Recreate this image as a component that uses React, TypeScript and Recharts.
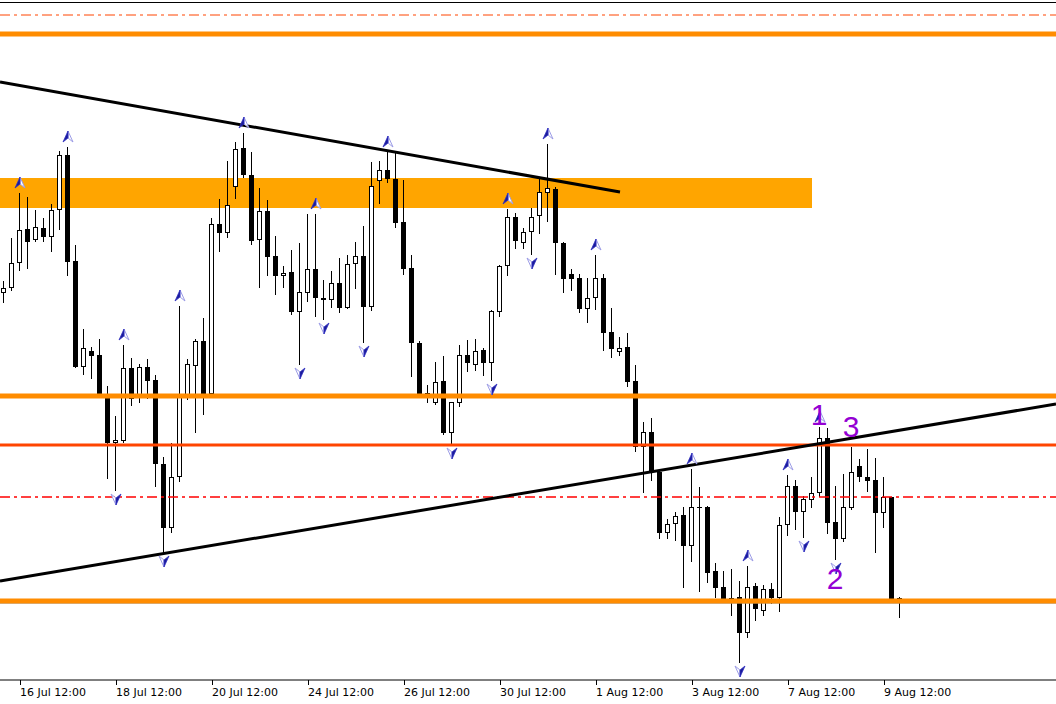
import { ComposedChart, Bar, Scatter, XAxis, YAxis, ReferenceLine, ReferenceArea } from 'recharts'

// H4 candles, price in points
const opens = [
  707, 712, 737, 771, 760, 772, 763, 790, 845, 739,
  633, 649, 645, 604, 557, 559, 632, 602, 633, 620,
  536, 472, 523, 603, 634, 659, 606, 776, 767, 813,
  852, 825, 760, 789, 744, 724, 728, 688, 707, 731,
  702, 700, 717, 692, 736, 744, 693, 819, 830, 821,
  778, 732, 657, 607, 597, 619, 567, 597, 645, 635,
  650, 637, 688, 734, 783, 757, 768, 784, 807, 811,
  757, 726, 722, 691, 702, 722, 668, 648, 653, 619,
  553, 568, 528, 467, 476, 485, 454, 493, 493, 429,
  413, 402, 403, 367, 414, 389, 411, 402, 475, 514,
  488, 500, 507, 562, 478, 461, 492, 534, 523, 520,
  487, 503, 402,
]
const highs = [
  719, 762, 807, 803, 790, 782, 796, 849, 853, 755,
  671, 653, 661, 614, 584, 655, 642, 636, 641, 625,
  543, 557, 694, 641, 661, 682, 782, 801, 839, 858,
  867, 848, 812, 800, 764, 734, 750, 757, 786, 786,
  720, 729, 742, 745, 758, 774, 838, 839, 848, 847,
  820, 745, 659, 615, 638, 644, 598, 655, 660, 661,
  652, 690, 735, 791, 787, 772, 792, 821, 856, 813,
  758, 731, 726, 722, 745, 726, 692, 663, 667, 635,
  578, 582, 529, 481, 488, 493, 531, 513, 494, 437,
  429, 431, 419, 434, 417, 415, 417, 483, 525, 520,
  504, 523, 573, 572, 514, 526, 553, 541, 551, 542,
  523, 503, 403,
]
const lows = [
  697, 709, 729, 731, 758, 758, 748, 770, 724, 632,
  625, 621, 603, 521, 509, 557, 594, 597, 601, 513,
  447, 467, 518, 600, 567, 585, 603, 748, 762, 801,
  822, 755, 712, 724, 705, 712, 685, 635, 698, 683,
  680, 692, 687, 691, 711, 657, 689, 796, 817, 772,
  725, 623, 603, 597, 595, 565, 555, 593, 628, 629,
  624, 619, 683, 724, 751, 751, 745, 766, 778, 725,
  707, 709, 687, 677, 690, 649, 642, 644, 613, 548,
  507, 519, 461, 461, 459, 412, 438, 408, 417, 402,
  399, 384, 337, 362, 379, 384, 396, 388, 464, 470,
  462, 492, 503, 466, 440, 458, 490, 518, 508, 447,
  472, 400, 382,
]
const closes = [
  712, 737, 770, 758, 773, 763, 790, 845, 738, 633,
  652, 644, 605, 557, 560, 632, 601, 633, 619, 536,
  472, 523, 603, 636, 659, 606, 776, 767, 795, 851,
  825, 759, 789, 743, 724, 727, 688, 708, 731, 702,
  700, 717, 692, 736, 744, 693, 814, 830, 821, 777,
  731, 657, 606, 605, 618, 567, 598, 645, 637, 649,
  637, 689, 734, 783, 759, 768, 783, 808, 812, 757,
  721, 721, 691, 702, 722, 667, 651, 652, 618, 553,
  568, 528, 467, 476, 484, 454, 493, 492, 427, 412,
  401, 400, 367, 413, 391, 411, 402, 475, 514, 488,
  501, 507, 562, 477, 461, 493, 528, 523, 519, 487,
  503, 401, 401,
]

// bar index of each time label
const tickIdx = [2, 14, 26, 38, 50, 62, 74, 86, 98, 110]
const tickLabels = [
  '16 Jul 12:00', '18 Jul 12:00', '20 Jul 12:00', '24 Jul 12:00', '26 Jul 12:00',
  '30 Jul 12:00', '1 Aug 12:00', '3 Aug 12:00', '7 Aug 12:00', '9 Aug 12:00',
]

// fractals
const fractalUp = [2, 8, 15, 22, 30, 39, 48, 63, 68, 74, 86, 93, 98, 102]
const fractalDown = [14, 20, 37, 40, 45, 56, 61, 66, 92, 100, 104]

// drawn objects
const resistTop = 966
const dashTop = 985
const zoneLow = 792
const zoneHigh = 822
const zoneEnd = 101
const level1 = 604
const level2 = 555
const dashLevel = 503
const level3 = 399
const bidPrice = 397
const trendDown = [{ x: -0.5, y: 918 }, { x: 77, y: 808 }]
const trendUp = [{ x: -0.5, y: 419 }, { x: 131.5, y: 596 }]
const waveLabels = [
  { i: 101.9, v: 586, t: '1' },
  { i: 103.9, v: 421.5, t: '2' },
  { i: 105.9, v: 574, t: '3' },
]

const candles = opens.map((open, i) => ({
  i,
  open,
  high: highs[i],
  low: lows[i],
  close: closes[i],
  range: [lows[i], highs[i]],
}))
const upData = fractalUp.map((i) => ({ i, v: highs[i] }))
const downData = fractalDown.map((i) => ({ i, v: lows[i] }))

const Candle = (props: any) => {
  const { x, y, width, height, payload } = props
  if (!payload || height == null) return null
  const { open, close, high, low } = payload
  const k = height / (high - low)
  const cx = Math.floor(x + width / 2) + 0.5
  const yO = y + (high - open) * k
  const yC = y + (high - close) * k
  const top = Math.round(Math.min(yO, yC))
  const bot = Math.round(Math.max(yO, yC))
  const bull = close > open
  return (
    <g>
      <line x1={cx} x2={cx} y1={Math.round(y)} y2={Math.round(y + height)} stroke="#000" strokeWidth={1} />
      {bull && bot - top > 1 ? (
        <rect x={cx - 2} y={top + 0.5} width={4} height={bot - top - 1} fill="#fff" stroke="#000" strokeWidth={1} />
      ) : (
        <rect x={cx - 2.5} y={top} width={5} height={Math.max(bot - top, 1)} fill="#000" />
      )}
    </g>
  )
}

// fractal arrows: dark half + outlined light half
const UpArrow = (props: any) => {
  const { cx, cy } = props
  const ax = Math.round(cx)
  const ay = cy - 10
  return (
    <g>
      <polygon points={`${ax},${ay - 6} ${ax + 5},${ay + 5} ${ax},${ay + 1}`} fill="#ffffff" stroke="#9c9ce6" strokeWidth={1} />
      <polygon points={`${ax},${ay - 6} ${ax - 5},${ay + 5} ${ax},${ay + 1}`} fill="#1a1a9a" stroke="#3030c0" strokeWidth={0.8} />
    </g>
  )
}

const DownArrow = (props: any) => {
  const { cx, cy } = props
  const ax = Math.round(cx)
  const ay = cy + 8
  return (
    <g>
      <polygon points={`${ax},${ay + 6} ${ax - 5},${ay - 5} ${ax},${ay - 1}`} fill="#ffffff" stroke="#9c9ce6" strokeWidth={1} />
      <polygon points={`${ax},${ay + 6} ${ax + 5},${ay - 5} ${ax},${ay - 1}`} fill="#1a1a9a" stroke="#3030c0" strokeWidth={0.8} />
    </g>
  )
}

const WaveLabel = (props: any) => {
  const { cx, cy, payload } = props
  return (
    <text x={cx} y={cy} textAnchor="middle" dominantBaseline="central" fill="#9400D3" fontSize={30} fontFamily="'Liberation Sans', Arial, sans-serif">
      {payload.t}
    </text>
  )
}

const TimeTick = (props: any) => {
  const { x, y, payload } = props
  const label = tickLabels[tickIdx.indexOf(payload.value)]
  const tx = Math.floor(x) + 0.5
  return (
    <g>
      <line x1={tx} x2={tx} y1={y} y2={y + 5} stroke="#000" strokeWidth={1} />
      <text x={x} y={y + 16} fill="#000" fontSize={11} fontFamily="'DejaVu Sans', sans-serif">
        {label}
      </text>
    </g>
  )
}

export default function App() {
  return (
    <div style={{ position: 'absolute', left: 0, top: 0, width: 1056, height: 704, background: '#fff' }}>
      <div style={{ position: 'absolute', left: 0, top: 2, width: 1056, height: 1, background: '#000' }} />
      <ComposedChart width={1056} height={704} data={candles} margin={{ top: 0, right: 0, bottom: 0, left: 0 }}>
        <XAxis
          dataKey="i"
          type="number"
          domain={[-0.5, 131.5]}
          allowDataOverflow
          ticks={tickIdx}
          interval={0}
          height={24}
          tickLine={false}
          tickSize={0}
          tickMargin={0}
          axisLine={{ stroke: '#000' }}
          tick={<TimeTick />}
        />
        <YAxis hide domain={[320, 1000]} allowDataOverflow type="number" />
        <ReferenceArea x1={-0.5} x2={zoneEnd} y1={zoneLow} y2={zoneHigh} fill="#FFA500" fillOpacity={1} stroke="none" />
        <Bar dataKey="range" barSize={8} shape={<Candle />} isAnimationActive={false} />
        <ReferenceLine y={dashTop} stroke="#FF4500" strokeWidth={1} strokeDasharray="10 4 3 4" />
        <ReferenceLine y={resistTop} stroke="#FF8C00" strokeWidth={5} />
        <ReferenceLine y={level1} stroke="#FF8C00" strokeWidth={5} />
        <ReferenceLine y={level2} stroke="#FF4500" strokeWidth={3} />
        <ReferenceLine y={dashLevel} stroke="#FF0000" strokeWidth={1.5} strokeDasharray="10 4 3 4" />
        <ReferenceLine y={bidPrice} stroke="#778899" strokeWidth={1} />
        <ReferenceLine y={level3} stroke="#FF8C00" strokeWidth={5} />
        <ReferenceLine segment={trendDown} stroke="#000" strokeWidth={3} />
        <ReferenceLine segment={trendUp} stroke="#000" strokeWidth={3} />
        <Scatter data={upData} dataKey="v" shape={<UpArrow />} isAnimationActive={false} />
        <Scatter data={downData} dataKey="v" shape={<DownArrow />} isAnimationActive={false} />
        <Scatter data={waveLabels} dataKey="v" shape={<WaveLabel />} isAnimationActive={false} />
      </ComposedChart>
    </div>
  )
}
